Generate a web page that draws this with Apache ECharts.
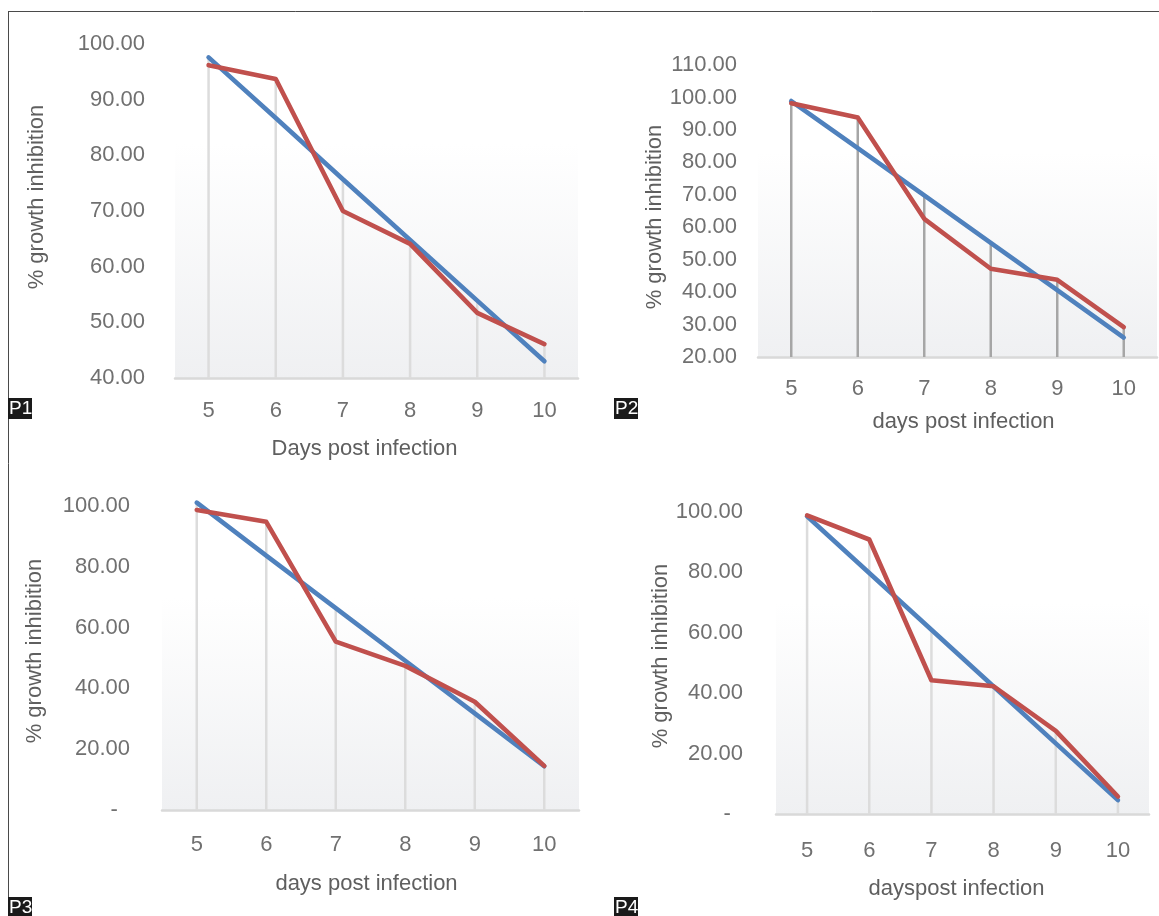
<!DOCTYPE html>
<html>
<head>
<meta charset="utf-8">
<script src="https://cdn.jsdelivr.net/npm/echarts@6/dist/echarts.min.js"></script>
<style>
  html, body { margin: 0; padding: 0; background: #fff; }
  #chart { width: 1159px; height: 916px; }
</style>
</head>
<body>
<div id="chart"></div>
<script>
  // Days post infection, shared by all four panels.
  var categories = ["5", "6", "7", "8", "9", "10"];

  var p1Observed = [96.2, 93.7, 70.0, 64.1, 51.7, 46.1];
  var p1Trend    = [97.6, 86.7, 75.7, 64.8, 53.9, 43.0];
  var p2Observed = [98.2, 93.8, 62.6, 47.2, 43.8, 29.2];
  var p2Trend    = [98.9, 84.4, 69.8, 55.2, 40.6, 26.0];
  var p3Observed = [98.7, 94.8, 55.4, 47.4, 35.6, 14.5];
  var p3Trend    = [101.1, 83.7, 66.4, 49.1, 31.8, 14.4];
  var p4Observed = [98.9, 90.9, 44.3, 42.3, 27.5, 5.8];
  var p4Trend    = [98.6, 79.8, 61.0, 42.2, 23.4, 4.6];

  var panelLabels = ["P1", "P2", "P3", "P4"];
  var xTitles = ["Days post infection", "days post infection", "days post infection", "dayspost infection"];
  var yTitle = "% growth inhibition";

  var RED = "#c0504d", BLUE = "#4f81bd";
  var LABEL = "#707070", TITLE = "#5f5f5f";
  var FONT = "'Liberation Sans', Arial, Helvetica, sans-serif";

  // Per-panel layout: plot rectangle, y range and the spacing of the axis texts.
  // yPad / xPad nudge the axis titles off-centre the way the original sits.
  var panels = [
    { obs: p1Observed, trend: p1Trend, grid: { left: 175, top: 44, width: 403, height: 334 },
      min: 40, max: 100, interval: 10, yMargin: 30, yGap: 127, xMargin: 22, xGap: 60,
      yPad: [0, 0, 0, 28], xPad: [0, 24, 0, 0], drop: "#dcdcdc", dropW: 2.5 },
    { obs: p2Observed, trend: p2Trend, grid: { left: 758, top: 65, width: 399, height: 292 },
      min: 20, max: 110, interval: 10, yMargin: 21, yGap: 92, xMargin: 21, xGap: 54,
      yPad: [0, 12, 0, 0], xPad: [0, 0, 0, 12], drop: "#a6a6a6", dropW: 2.5 },
    { obs: p3Observed, trend: p3Trend, grid: { left: 162, top: 506, width: 417, height: 304 },
      min: 0, max: 100, interval: 20, yMargin: 32, yGap: 116, xMargin: 24, xGap: 63,
      yPad: [0, 0, 0, 14], xPad: [0, 8, 0, 0], drop: "#dcdcdc", dropW: 2.5 },
    { obs: p4Observed, trend: p4Trend, grid: { left: 776, top: 512, width: 373, height: 302 },
      min: 0, max: 100, interval: 20, yMargin: 33, yGap: 104, xMargin: 26, xGap: 64,
      yPad: [0, 0, 0, 14], xPad: [0, 12, 0, 0], drop: "#dcdcdc", dropW: 2.5 }
  ];

  // Accounting-style format: zero shows as a dash set in from the right.
  function fmtY(v) {
    return v === 0 ? "-  " : v.toFixed(2);
  }

  var grids = [], xAxes = [], yAxes = [], series = [];

  panels.forEach(function (p, i) {
    grids.push({
      left: p.grid.left, top: p.grid.top, width: p.grid.width, height: p.grid.height,
      show: true, borderWidth: 0,
      backgroundColor: new echarts.graphic.LinearGradient(0, 0, 0, 1, [
        { offset: 0, color: "#ffffff" },
        { offset: 0.3, color: "#ffffff" },
        { offset: 1, color: "#eff0f2" }
      ])
    });

    xAxes.push({
      gridIndex: i, type: "category", data: categories, boundaryGap: true,
      name: xTitles[i], nameLocation: "middle", nameGap: p.xGap,
      nameTextStyle: { color: TITLE, fontSize: 22, fontFamily: FONT, padding: p.xPad },
      axisLine: { lineStyle: { color: "#d9d9d9", width: 2.5 } },
      axisTick: { show: false },
      axisLabel: { color: LABEL, fontSize: 22, fontFamily: FONT, margin: p.xMargin },
      splitLine: { show: false }
    });

    yAxes.push({
      gridIndex: i, type: "value", min: p.min, max: p.max, interval: p.interval,
      name: yTitle, nameLocation: "middle", nameGap: p.yGap, nameRotate: 90,
      nameTextStyle: { color: TITLE, fontSize: 22, fontFamily: FONT, padding: p.yPad },
      axisLine: { show: false }, axisTick: { show: false },
      axisLabel: { color: LABEL, fontSize: 22, fontFamily: FONT, margin: p.yMargin, formatter: fmtY },
      splitLine: { show: false }
    });

    // Drop lines from the axis up to the higher of the two lines at each day.
    var dropData = categories.map(function (c, k) {
      return [k, Math.max(p.obs[k], p.trend[k])];
    });
    series.push({
      type: "custom", xAxisIndex: i, yAxisIndex: i, z: 1, silent: true, clip: false,
      data: dropData,
      renderItem: function (params, api) {
        var top = api.coord([api.value(0), api.value(1)]);
        var bottom = api.coord([api.value(0), p.min]);
        return {
          type: "line",
          shape: { x1: top[0], y1: top[1], x2: bottom[0], y2: bottom[1] },
          style: { stroke: p.drop, lineWidth: p.dropW }
        };
      }
    });

    series.push({
      type: "line", xAxisIndex: i, yAxisIndex: i, z: 2, clip: false,
      data: p.trend, showSymbol: false, symbol: "none",
      lineStyle: { color: BLUE, width: 4.6, cap: "round" }
    });
    series.push({
      type: "line", xAxisIndex: i, yAxisIndex: i, z: 3, clip: false,
      data: p.obs, showSymbol: false, symbol: "none",
      lineStyle: { color: RED, width: 4.6, cap: "round", join: "round" }
    });
  });

  // Panel tags (black boxes) and the frame lines along the top and left edges.
  var tagPos = [[8, 398], [614, 398], [8, 897], [614, 897]];
  var graphics = [
    { type: "line", shape: { x1: 8, y1: 11.5, x2: 1159, y2: 11.5 }, style: { stroke: "#4a4a4a", lineWidth: 1 } },
    { type: "line", shape: { x1: 8.5, y1: 11, x2: 8.5, y2: 916 }, style: { stroke: "#4a4a4a", lineWidth: 1 } }
  ];
  panelLabels.forEach(function (t, i) {
    graphics.push({
      type: "group", left: tagPos[i][0], top: tagPos[i][1],
      children: [
        { type: "rect", shape: { x: 0, y: 0, width: 24, height: 21 }, style: { fill: "#1a1a1a" } },
        { type: "text", x: 1, y: 1, style: { text: t, fill: "#ffffff", font: "19px " + FONT } }
      ]
    });
  });

  var chart = echarts.init(document.getElementById("chart"), null, { renderer: "canvas" });
  chart.setOption({
    animation: false,
    textStyle: { fontFamily: FONT },
    grid: grids,
    xAxis: xAxes,
    yAxis: yAxes,
    series: series,
    graphic: graphics
  });
</script>
</body>
</html>
